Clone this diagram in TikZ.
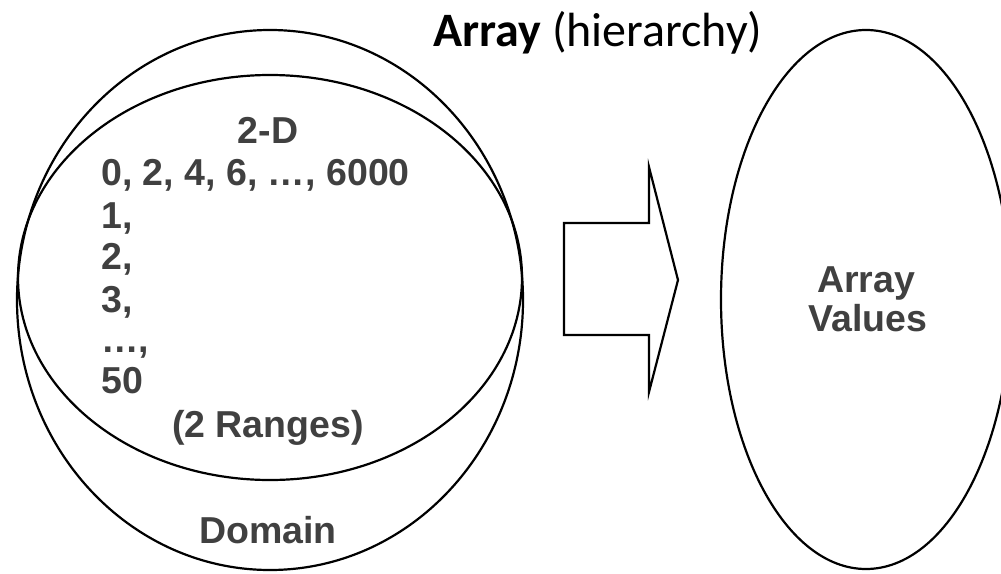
\documentclass[tikz,border=0pt]{standalone}
\usepackage{fontspec}
\setmainfont{Liberation Sans}
\newfontfamily\calibri{Carlito}
\usetikzlibrary{shapes.geometric}
\definecolor{txtgray}{HTML}{404040}
\begin{document}
\begin{tikzpicture}[x=1pt,y=-1pt,
  shapeline/.style={draw=black,line width=2.2pt},
  oval/.style={shapeline,ellipse,inner sep=0pt,fill=none},
  lbl/.style={text=txtgray,font=\fontsize{37.5}{32}\selectfont\bfseries,inner sep=0pt},
  lblleft/.style={lbl,anchor=base west},
  lblmid/.style={lbl,anchor=base}]
\useasboundingbox (0,0) rectangle (1001,573);
\begin{scope}
\clip (0,0) rectangle (1001,573);
\node[oval,minimum width=506pt,minimum height=540pt] (outer) at (270,300) {};
\node[oval,minimum width=504pt,minimum height=405pt] (inner) at (270,277.5) {};
\node[oval,minimum width=290pt,minimum height=539pt] (values) at (866,299.5) {};
\end{scope}
% block arrow
\coordinate (a1) at (564,223);
\coordinate (a2) at (649,223);
\coordinate (a3) at (649,167);
\coordinate (tip) at (678,280);
\coordinate (a5) at (649,392);
\coordinate (a6) at (649,335);
\coordinate (a7) at (564,335);
\draw[shapeline,line join=miter] (a1) -- (a2) -- (a3) -- (tip) -- (a5) -- (a6) -- (a7) -- cycle;
% title
\node[anchor=base,inner sep=0pt,font=\calibri\fontsize{48}{54}\selectfont] (title) at (598,46) {\textbf{Array} (hierarchy)};
% left texts
\node[lblmid] (twod) at (268,143) {2-D};
\node[lblleft] (l1) at (101,185) {0, 2, 4, 6, …, 6000};
\node[lblleft] (l2) at (101,228) {1,};
\node[lblleft] (l3) at (101,269) {2,};
\node[lblleft] (l4) at (101,312) {3,};
\node[lblleft] (l5) at (101,352) {…,};
\node[lblleft] (l6) at (101,393) {50};
\node[lblmid] (ranges) at (268,437) {(2 Ranges)};
\node[lblmid] (domain) at (268,543) {Domain};
% right texts
\node[lblmid] (av1) at (866,292) {Array};
\node[lblmid] (av2) at (868,331) {Values};
\end{tikzpicture}
\end{document}
